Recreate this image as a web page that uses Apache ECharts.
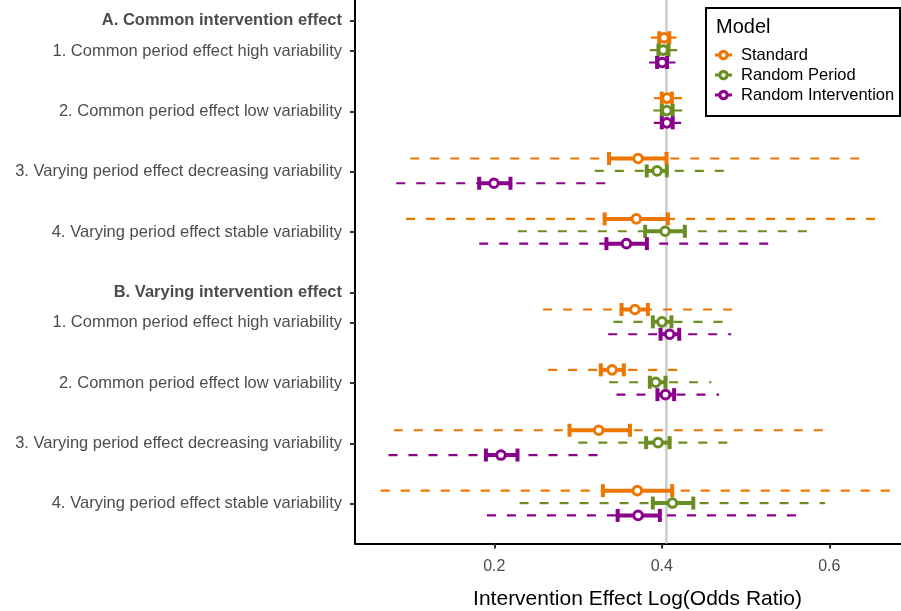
<!DOCTYPE html>
<html>
<head>
<meta charset="utf-8">
<script src="https://cdn.jsdelivr.net/npm/echarts@6/dist/echarts.min.js"></script>
<style>
html,body{margin:0;padding:0;background:#fff;}
#chart{width:901px;height:611px;}
</style>
</head>
<body>
<div id="chart"></div>
<script>
// ---- Data ----
const tickPositions = [0, 1, 3, 5, 7, 9, 10, 12, 14, 16];
const tickLabels = [
  'A. Common intervention effect',
  '1. Common period effect high variability',
  '2. Common period effect low variability',
  '3. Varying period effect decreasing variability',
  '4. Varying period effect stable variability',
  'B. Varying intervention effect',
  '1. Common period effect high variability',
  '2. Common period effect low variability',
  '3. Varying period effect decreasing variability',
  '4. Varying period effect stable variability'
];
const headerPositions = [0, 9];
const scenarioPositions = [1, 3, 5, 7, 10, 12, 14, 16];
const xTicks = [0.2, 0.4, 0.6];
const trueEffect = 0.4055;

const models = ['Standard', 'Random Period', 'Random Intervention'];

// Standard
const stdEst     = [0.4027, 0.4063, 0.3717, 0.3696, 0.3679, 0.3407, 0.3247, 0.3708];
const stdCiLow   = [0.3970, 0.4000, 0.3370, 0.3318, 0.3519, 0.3272, 0.2898, 0.3297];
const stdCiHigh  = [0.4090, 0.4120, 0.4056, 0.4073, 0.3834, 0.3547, 0.3620, 0.4124];
const stdRngLow  = [0.3870, 0.3905, 0.0997, 0.0946, 0.2583, 0.2643, 0.0800, 0.0644];
const stdRngHigh = [0.4175, 0.4242, 0.6403, 0.6583, 0.4871, 0.4206, 0.6004, 0.6800];

// Random Period
const rpEst     = [0.4016, 0.4060, 0.3944, 0.4040, 0.4002, 0.3928, 0.3956, 0.4127];
const rpCiLow   = [0.3960, 0.4000, 0.3820, 0.3801, 0.3893, 0.3857, 0.3813, 0.3893];
const rpCiHigh  = [0.4080, 0.4130, 0.4060, 0.4275, 0.4115, 0.4044, 0.4094, 0.4376];
const rpRngLow  = [0.3857, 0.3897, 0.3200, 0.2281, 0.3423, 0.3371, 0.3003, 0.2302];
const rpRngHigh = [0.4183, 0.4247, 0.4774, 0.5782, 0.4758, 0.4593, 0.4800, 0.5950];

// Random Intervention
const riEst     = [0.4004, 0.4060, 0.1996, 0.3578, 0.4094, 0.4044, 0.2080, 0.3717];
const riCiLow   = [0.3944, 0.4000, 0.1820, 0.3339, 0.3985, 0.3948, 0.1900, 0.3473];
const riCiHigh  = [0.4063, 0.4130, 0.2193, 0.3822, 0.4208, 0.4147, 0.2277, 0.3977];
const riRngLow  = [0.3849, 0.3905, 0.0829, 0.1820, 0.3360, 0.3459, 0.0737, 0.1912];
const riRngHigh = [0.4163, 0.4230, 0.3368, 0.5324, 0.4829, 0.4684, 0.3276, 0.5668];

// ---- Styling ----
const colors = ['#EE7600', '#6B8E23', '#8B008B'];
const dodge = [-0.44, -0.03, 0.38];
const FONT = '"Liberation Sans", Arial, Helvetica, sans-serif';
const yMin = -0.689, yMax = 17.31;
const xMin = 0.0337, xMax = 0.6856;

function buildData(rLo, rHi, cLo, cHi, est) {
  return scenarioPositions.map((p, i) => [rLo[i], rHi[i], cLo[i], cHi[i], est[i], p]);
}
const seriesData = [
  buildData(stdRngLow, stdRngHigh, stdCiLow, stdCiHigh, stdEst),
  buildData(rpRngLow, rpRngHigh, rpCiLow, rpCiHigh, rpEst),
  buildData(riRngLow, riRngHigh, riCiLow, riCiHigh, riEst)
];

function makeRender(k) {
  const color = colors[k];
  const off = dodge[k];
  return function (params, api) {
    const y = api.value(5) + off;
    const a = api.coord([api.value(0), y]);
    const b = api.coord([api.value(1), y]);
    const c = api.coord([api.value(2), y]);
    const d = api.coord([api.value(3), y]);
    const e = api.coord([api.value(4), y]);
    const capH = 6.5;
    return {
      type: 'group',
      children: [
        { type: 'line', shape: { x1: a[0], y1: a[1], x2: b[0], y2: b[1] },
          style: { stroke: color, lineWidth: 2.2, lineDash: [9, 11], lineCap: 'butt' } },
        { type: 'line', shape: { x1: c[0], y1: c[1], x2: d[0], y2: d[1] },
          style: { stroke: color, lineWidth: 4, lineCap: 'butt' } },
        { type: 'line', shape: { x1: c[0], y1: c[1] - capH, x2: c[0], y2: c[1] + capH },
          style: { stroke: color, lineWidth: 4, lineCap: 'butt' } },
        { type: 'line', shape: { x1: d[0], y1: d[1] - capH, x2: d[0], y2: d[1] + capH },
          style: { stroke: color, lineWidth: 4, lineCap: 'butt' } },
        { type: 'circle', shape: { cx: e[0], cy: e[1], r: 4.3 },
          style: { fill: '#ffffff', stroke: color, lineWidth: 3 } }
      ]
    };
  };
}

const legendIcon = 'path://M0,3.6 L3.2,3.6 L3.2,6.4 L0,6.4 Z M12.8,3.6 L16,3.6 L16,6.4 L12.8,6.4 Z M3,5 A5,5 0 1,1 13,5 A5,5 0 1,1 3,5 Z M6,5 A2,2 0 1,0 10,5 A2,2 0 1,0 6,5 Z';

const chart = echarts.init(document.getElementById('chart'), null, { renderer: 'canvas' });

const series = [
  {
    type: 'line',
    name: 'ref',
    data: [[trueEffect, yMin], [trueEffect, yMax]],
    symbol: 'none',
    silent: true,
    z: 1,
    lineStyle: { color: '#cccccc', width: 2.5 }
  }
];
models.forEach((m, k) => {
  series.push({
    type: 'custom',
    name: m,
    data: seriesData[k],
    renderItem: makeRender(k),
    encode: { x: [0, 1, 2, 3, 4], y: 5 },
    itemStyle: { color: colors[k] },
    z: 2 + k,
    clip: false
  });
});

chart.setOption({
  animation: false,
  backgroundColor: '#ffffff',
  grid: { left: 355, right: 0, top: 0, bottom: 67.5, containLabel: false },
  xAxis: {
    type: 'value',
    min: xMin,
    max: xMax,
    splitLine: { show: false },
    axisLine: { onZero: false, lineStyle: { color: '#000', width: 2 } },
    axisTick: { customValues: xTicks, length: 5, lineStyle: { color: '#333', width: 2 } },
    axisLabel: {
      customValues: xTicks, margin: 15,
      formatter: v => v.toFixed(1),
      color: '#4d4d4d', fontSize: 16, fontFamily: FONT
    }
  },
  yAxis: {
    type: 'value',
    inverse: true,
    min: yMin,
    max: yMax,
    splitLine: { show: false },
    axisLine: { onZero: false, lineStyle: { color: '#000', width: 2 } },
    axisTick: { customValues: tickPositions, length: 5, lineStyle: { color: '#333', width: 2 } },
    axisLabel: {
      customValues: tickPositions, margin: 13,
      color: '#4d4d4d', fontSize: 16.5, fontFamily: FONT,
      formatter: function (v) {
        const i = tickPositions.indexOf(Math.round(v));
        if (i < 0) return '';
        const t = tickLabels[i];
        return headerPositions.indexOf(tickPositions[i]) >= 0 ? '{b|' + t + '}' : '{n|' + t + '}';
      },
      rich: {
        b: { fontWeight: 'bold', color: '#4d4d4d', fontSize: 16.5, fontFamily: FONT },
        n: { color: '#4d4d4d', fontSize: 16.5, fontFamily: FONT }
      }
    }
  },
  legend: {
    data: models,
    orient: 'vertical',
    left: 715,
    top: 45,
    padding: 0,
    itemWidth: 17,
    itemHeight: 11,
    itemGap: 0,
    icon: legendIcon,
    selectedMode: false,
    textStyle: { color: '#000', fontSize: 16.5, fontFamily: FONT, lineHeight: 20, padding: [0, 0, 0, 4] }
  },
  graphic: [
    { type: 'rect', left: 705, top: 7, shape: { x: 0, y: 0, width: 194, height: 108 },
      style: { fill: 'rgba(255,255,255,0)', stroke: '#000', lineWidth: 2 }, z: 10 },
    { type: 'text', left: 716, top: 17, style: { text: 'Model', fontSize: 20, fontFamily: FONT, fill: '#000' }, z: 11 },
    { type: 'text', x: 637.5, y: 599, style: { text: 'Intervention Effect Log(Odds Ratio)', fontSize: 21, fontFamily: FONT, fill: '#000', align: 'center', verticalAlign: 'middle' } }
  ],
  series: series
});
</script>
</body>
</html>
